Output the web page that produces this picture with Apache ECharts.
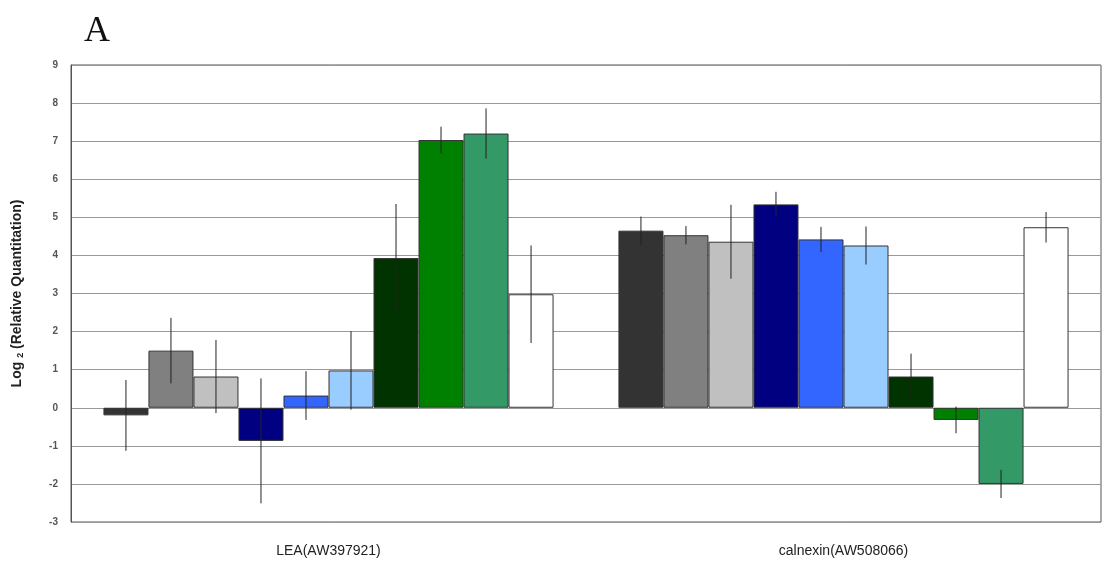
<!DOCTYPE html>
<html>
<head>
<meta charset="utf-8">
<script src="https://cdn.jsdelivr.net/npm/echarts@6/dist/echarts.min.js"></script>
<style>
  html, body { margin: 0; padding: 0; background: #fff; }
  #chart { width: 1104px; height: 567px; }
</style>
</head>
<body>
<div id="chart"></div>
<script>
// Genes on the category axis
const genes = ['LEA(AW397921)', 'calnexin(AW508066)'];

// Log2 relative quantitation, one array per sample (LEA, calnexin)
const s1 = [-0.2, 4.65];
const s2 = [1.5, 4.53];
const s3 = [0.82, 4.36];
const s4 = [-0.87, 5.34];
const s5 = [0.32, 4.42];
const s6 = [0.98, 4.26];
const s7 = [3.93, 0.82];
const s8 = [7.03, -0.32];
const s9 = [7.2, -2.0];
const s10 = [2.98, 4.74];

// Symmetric error (± value) for each sample
const e1 = [0.93, 0.37];
const e2 = [0.86, 0.24];
const e3 = [0.96, 0.97];
const e4 = [1.64, 0.33];
const e5 = [0.64, 0.33];
const e6 = [1.03, 0.5];
const e7 = [1.42, 0.6];
const e8 = [0.35, 0.35];
const e9 = [0.66, 0.37];
const e10 = [1.28, 0.4];

const yTicks = [-3, -2, -1, 0, 1, 2, 3, 4, 5, 6, 7, 8, 9];

const values = [s1, s2, s3, s4, s5, s6, s7, s8, s9, s10];
const errors = [e1, e2, e3, e4, e5, e6, e7, e8, e9, e10];
const colors = ['#333333', '#808080', '#c0c0c0', '#000080', '#3366ff',
                '#99ccff', '#003300', '#008000', '#339966', '#ffffff'];

const CAT_GAP = 0.126;
const N = values.length;

const barSeries = values.map((v, i) => ({
  type: 'bar',
  data: v,
  barGap: '0%',
  barCategoryGap: (CAT_GAP * 100) + '%',
  itemStyle: { color: colors[i], borderColor: '#333', borderWidth: 1 },
  silent: true,
  z: 2
}));

// Vertical error lines drawn at each bar's centre
const errData = [];
values.forEach((v, i) => {
  v.forEach((val, c) => {
    errData.push([c, val - errors[i][c], val + errors[i][c], i]);
  });
});

const errSeries = {
  type: 'custom',
  data: errData,
  z: 5,
  silent: true,
  encode: { x: 0, y: [1, 2] },
  renderItem: function (params, api) {
    const c = api.value(0);
    const lo = api.value(1);
    const hi = api.value(2);
    const idx = api.value(3);
    const band = api.size([1, 0])[0];
    const bw = band * (1 - CAT_GAP) / N;
    const off = (idx - (N - 1) / 2) * bw;
    const pLo = api.coord([c, lo]);
    const pHi = api.coord([c, hi]);
    return {
      type: 'line',
      shape: { x1: pLo[0] + off, y1: pLo[1], x2: pHi[0] + off, y2: pHi[1] },
      style: { stroke: '#222', lineWidth: 1 }
    };
  }
};

const chart = echarts.init(document.getElementById('chart'), null, { renderer: 'canvas' });
chart.setOption({
  backgroundColor: '#fff',
  animation: false,
  title: {
    text: 'A',
    left: 79,
    top: 9,
    textStyle: { fontFamily: 'Liberation Serif', fontSize: 36, fontWeight: 'normal', color: '#111' }
  },
  grid: {
    left: 71, right: 3, top: 65, bottom: 45,
    outerBoundsMode: 'none',
    containLabel: false,
    show: true, borderColor: '#555', borderWidth: 1
  },
  xAxis: {
    type: 'category',
    data: genes,
    position: 'bottom',
    axisLine: { show: false },
    axisTick: { show: false },
    axisLabel: { fontFamily: 'Liberation Sans', fontSize: 14, color: '#222', margin: 22 },
    splitLine: { show: false }
  },
  yAxis: {
    type: 'value',
    min: yTicks[0],
    max: yTicks[yTicks.length - 1],
    interval: 1,
    axisLine: { show: true, onZero: false, lineStyle: { color: '#555' } },
    axisTick: { show: false },
    axisLabel: { fontFamily: 'Liberation Sans', fontSize: 10, fontWeight: 'bold', color: '#555', margin: 13 },
    splitLine: { show: true, lineStyle: { color: '#999', width: 1.2 } },
    name: '{b|Log }{s|2}{b| (Relative Quantitation)}',
    nameLocation: 'middle',
    nameGap: 46,
    nameRotate: 90,
    nameTextStyle: {
      rich: {
        b: { fontFamily: 'Liberation Sans', fontSize: 14, fontWeight: 'bold', color: '#222' },
        s: { fontFamily: 'Liberation Sans', fontSize: 9, fontWeight: 'bold', color: '#222', padding: [6, 0, 0, 0] }
      }
    }
  },
  series: barSeries.concat([errSeries])
});
</script>
</body>
</html>
